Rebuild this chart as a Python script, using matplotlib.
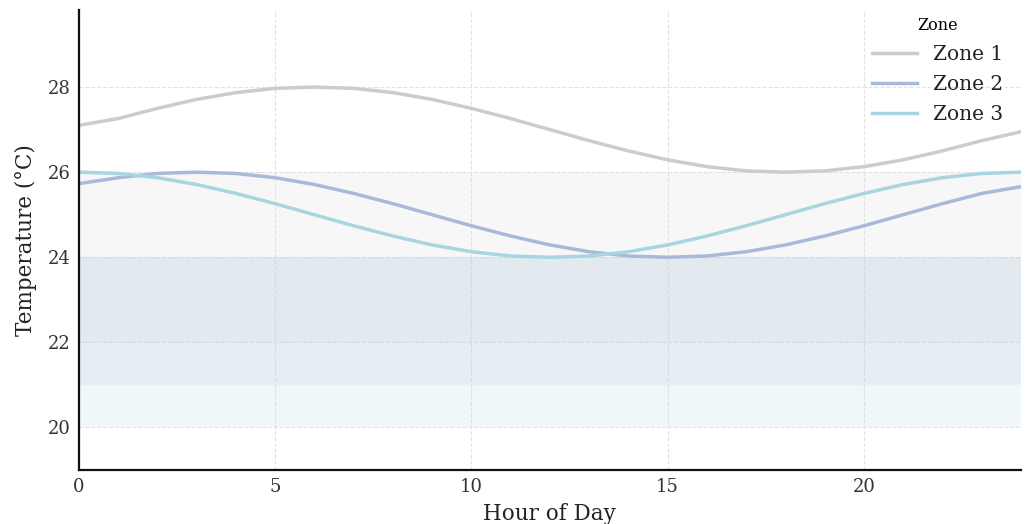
import matplotlib
matplotlib.use("Agg")
import matplotlib.pyplot as plt

# hourly readings per zone
hours = list(range(25))
zone1 = [27.10, 27.26, 27.50, 27.71, 27.87, 27.97, 28.00, 27.97, 27.87, 27.71, 27.50, 27.26,
         27.00, 26.74, 26.50, 26.29, 26.13, 26.03, 26.00, 26.03, 26.13, 26.29, 26.50, 26.74, 26.95]
zone2 = [25.73, 25.87, 25.97, 26.00, 25.97, 25.87, 25.71, 25.50, 25.26, 25.00, 24.74, 24.50,
         24.29, 24.13, 24.03, 24.00, 24.03, 24.13, 24.29, 24.50, 24.74, 25.00, 25.26, 25.50, 25.66]
zone3 = [26.00, 25.97, 25.87, 25.71, 25.50, 25.26, 25.00, 24.74, 24.50, 24.29, 24.13, 24.03,
         24.00, 24.03, 24.13, 24.29, 24.50, 24.74, 25.00, 25.26, 25.50, 25.71, 25.87, 25.97, 26.00]
zones = ["Zone 1", "Zone 2", "Zone 3"]
colors = ["#cccccc", "#a9b9d9", "#a8d5e2"]

plt.rcParams['font.family'] = 'DejaVu Serif'

fig, ax = plt.subplots(figsize=(10.25, 5.24), dpi=100)
fig.subplots_adjust(left=0.077, right=0.996, top=0.98, bottom=0.103)

# comfort bands
ax.axhspan(20, 24, color="#add8e6", alpha=0.18, lw=0)
ax.axhspan(21, 24, color="#b0c4de", alpha=0.17, lw=0)
ax.axhspan(22, 26, color="#d3d3d3", alpha=0.16, lw=0)

for name, vals, c in zip(zones, [zone1, zone2, zone3], colors):
    ax.plot(hours, vals, color=c, lw=2.5, label=name)

ax.set_xlim(0, 24)
ax.set_ylim(19, 29.8)
ax.set_xticks([0, 5, 10, 15, 20])
ax.set_yticks([20, 22, 24, 26, 28])
ax.grid(True, linestyle="--", color="#e3e3e3", lw=0.8)
ax.set_axisbelow(True)
ax.tick_params(length=0, labelsize=13, labelcolor="#333333", pad=6)

for s in ["top", "right"]:
    ax.spines[s].set_visible(False)
for s in ["left", "bottom"]:
    ax.spines[s].set_linewidth(1.6)
    ax.spines[s].set_color("#111111")

ax.set_xlabel("Hour of Day", fontsize=15.5, color="#222222", labelpad=5)
ax.set_ylabel("Temperature (°C)", fontsize=15.5, color="#222222", labelpad=8)

leg = ax.legend(title="Zone", loc="upper right", frameon=False, fontsize=14.5,
                title_fontsize=11.5, handlelength=2.2, labelspacing=0.55,
                borderaxespad=0.2, bbox_to_anchor=(0.994, 1.012))
for t in leg.get_texts():
    t.set_color("#222222")

fig.savefig("out.png", dpi=100)
